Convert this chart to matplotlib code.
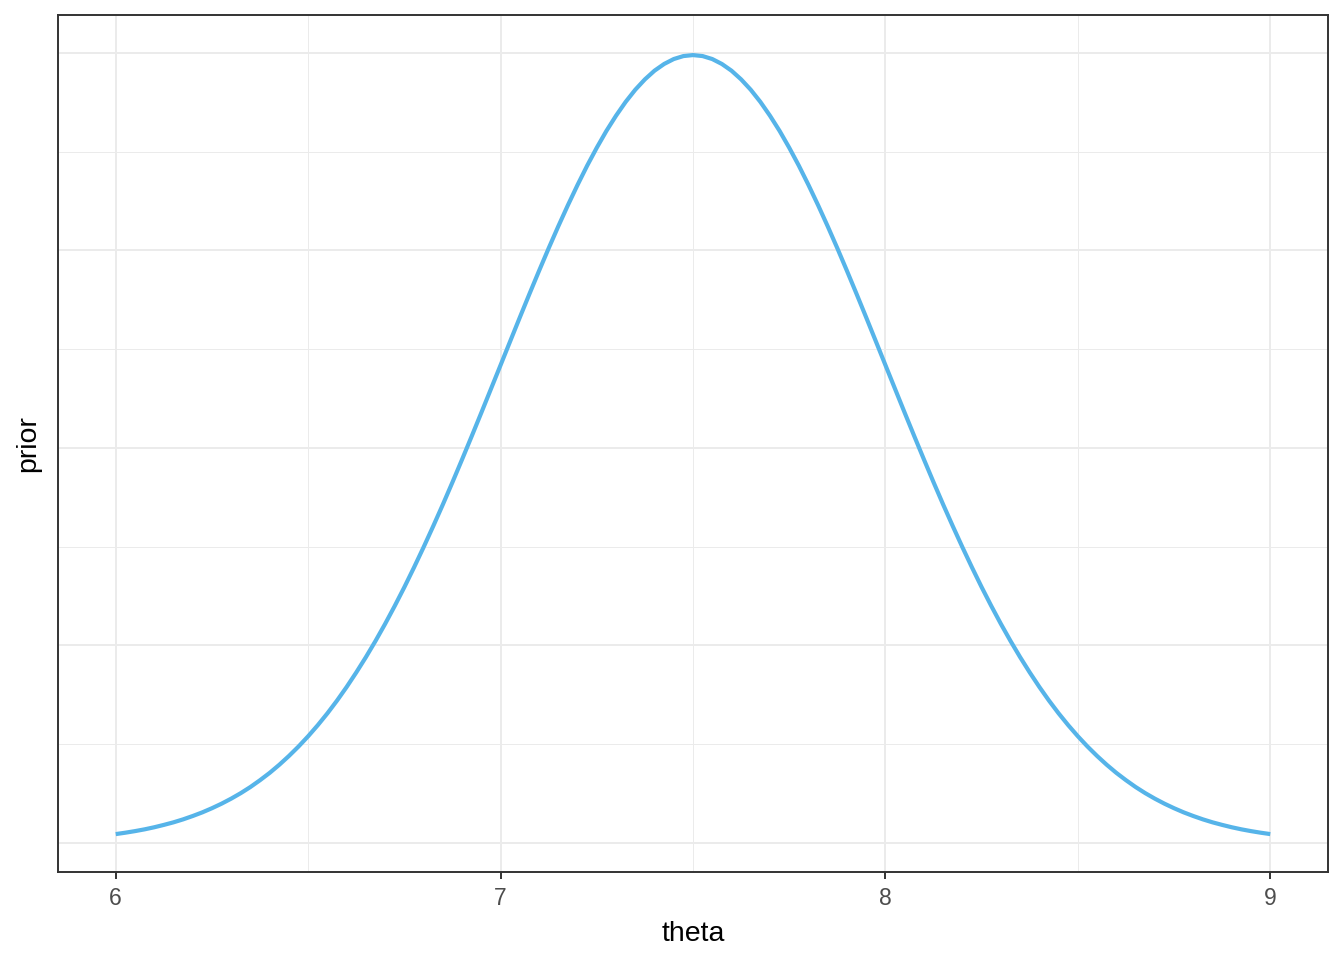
import numpy as np
import matplotlib.pyplot as plt
import matplotlib
matplotlib.rcParams['font.family'] = ['Liberation Sans', 'DejaVu Sans']

# theta grid and prior density (symmetric about 7.5)
theta = np.round(np.arange(6.0, 9.0001, 0.025), 3)
prior_half = [0.0089, 0.0103, 0.0119, 0.0137, 0.0158, 0.0182, 0.0208, 0.0238, 0.0272, 0.0309,
              0.0351, 0.0397, 0.0448, 0.0504, 0.0566, 0.0635, 0.0709, 0.0791, 0.0880, 0.0976,
              0.1080, 0.1192, 0.1312, 0.1441, 0.1579, 0.1726, 0.1881, 0.2045, 0.2218, 0.2400,
              0.2590, 0.2789, 0.2995, 0.3208, 0.3427, 0.3653, 0.3884, 0.4119, 0.4357, 0.4598,
              0.4839, 0.5081, 0.5322, 0.5560, 0.5794, 0.6023, 0.6245, 0.6459, 0.6664, 0.6859,
              0.7041, 0.7211, 0.7365, 0.7505, 0.7628, 0.7733, 0.7821, 0.7889, 0.7939, 0.7969]
prior = prior_half + [0.7979] + prior_half[::-1]

x_major = [6, 7, 8, 9]
x_minor = [6.5, 7.5, 8.5]
y_major = [0.0, 0.2, 0.4, 0.6, 0.8]
y_minor = [0.1, 0.3, 0.5, 0.7]

fig = plt.figure(figsize=(13.44, 9.6), dpi=100)
ax = fig.add_axes([58/1344, 1-872/960, (1328-58)/1344, (872-15)/960])

ax.set_xticks(x_major)
ax.set_xticks(x_minor, minor=True)
ax.set_yticks(y_major)
ax.set_yticks(y_minor, minor=True)
ax.grid(which='major', color='#EBEBEB', linewidth=1.4)
ax.grid(which='minor', color='#EBEBEB', linewidth=0.7)
ax.set_axisbelow(True)

ax.plot(theta, prior, color='#56B4E9', linewidth=3.0, solid_capstyle='butt')

ax.set_xlim(5.85, 9.15)
ax.set_ylim(-0.0295, 0.8385)

for s in ax.spines.values():
    s.set_color('#333333')
    s.set_linewidth(1.4)

ax.tick_params(axis='x', which='major', length=5, width=1.4, color='#333333',
               labelsize=16.5, labelcolor='#4D4D4D', pad=6)
ax.tick_params(axis='x', which='minor', length=0)
ax.tick_params(axis='y', which='both', length=0, labelleft=False)

ax.set_xlabel('theta', fontsize=20.5, color='black', labelpad=8)
ax.set_ylabel('prior', fontsize=20.5, color='black', labelpad=12)

fig.savefig('out.png', dpi=100)
